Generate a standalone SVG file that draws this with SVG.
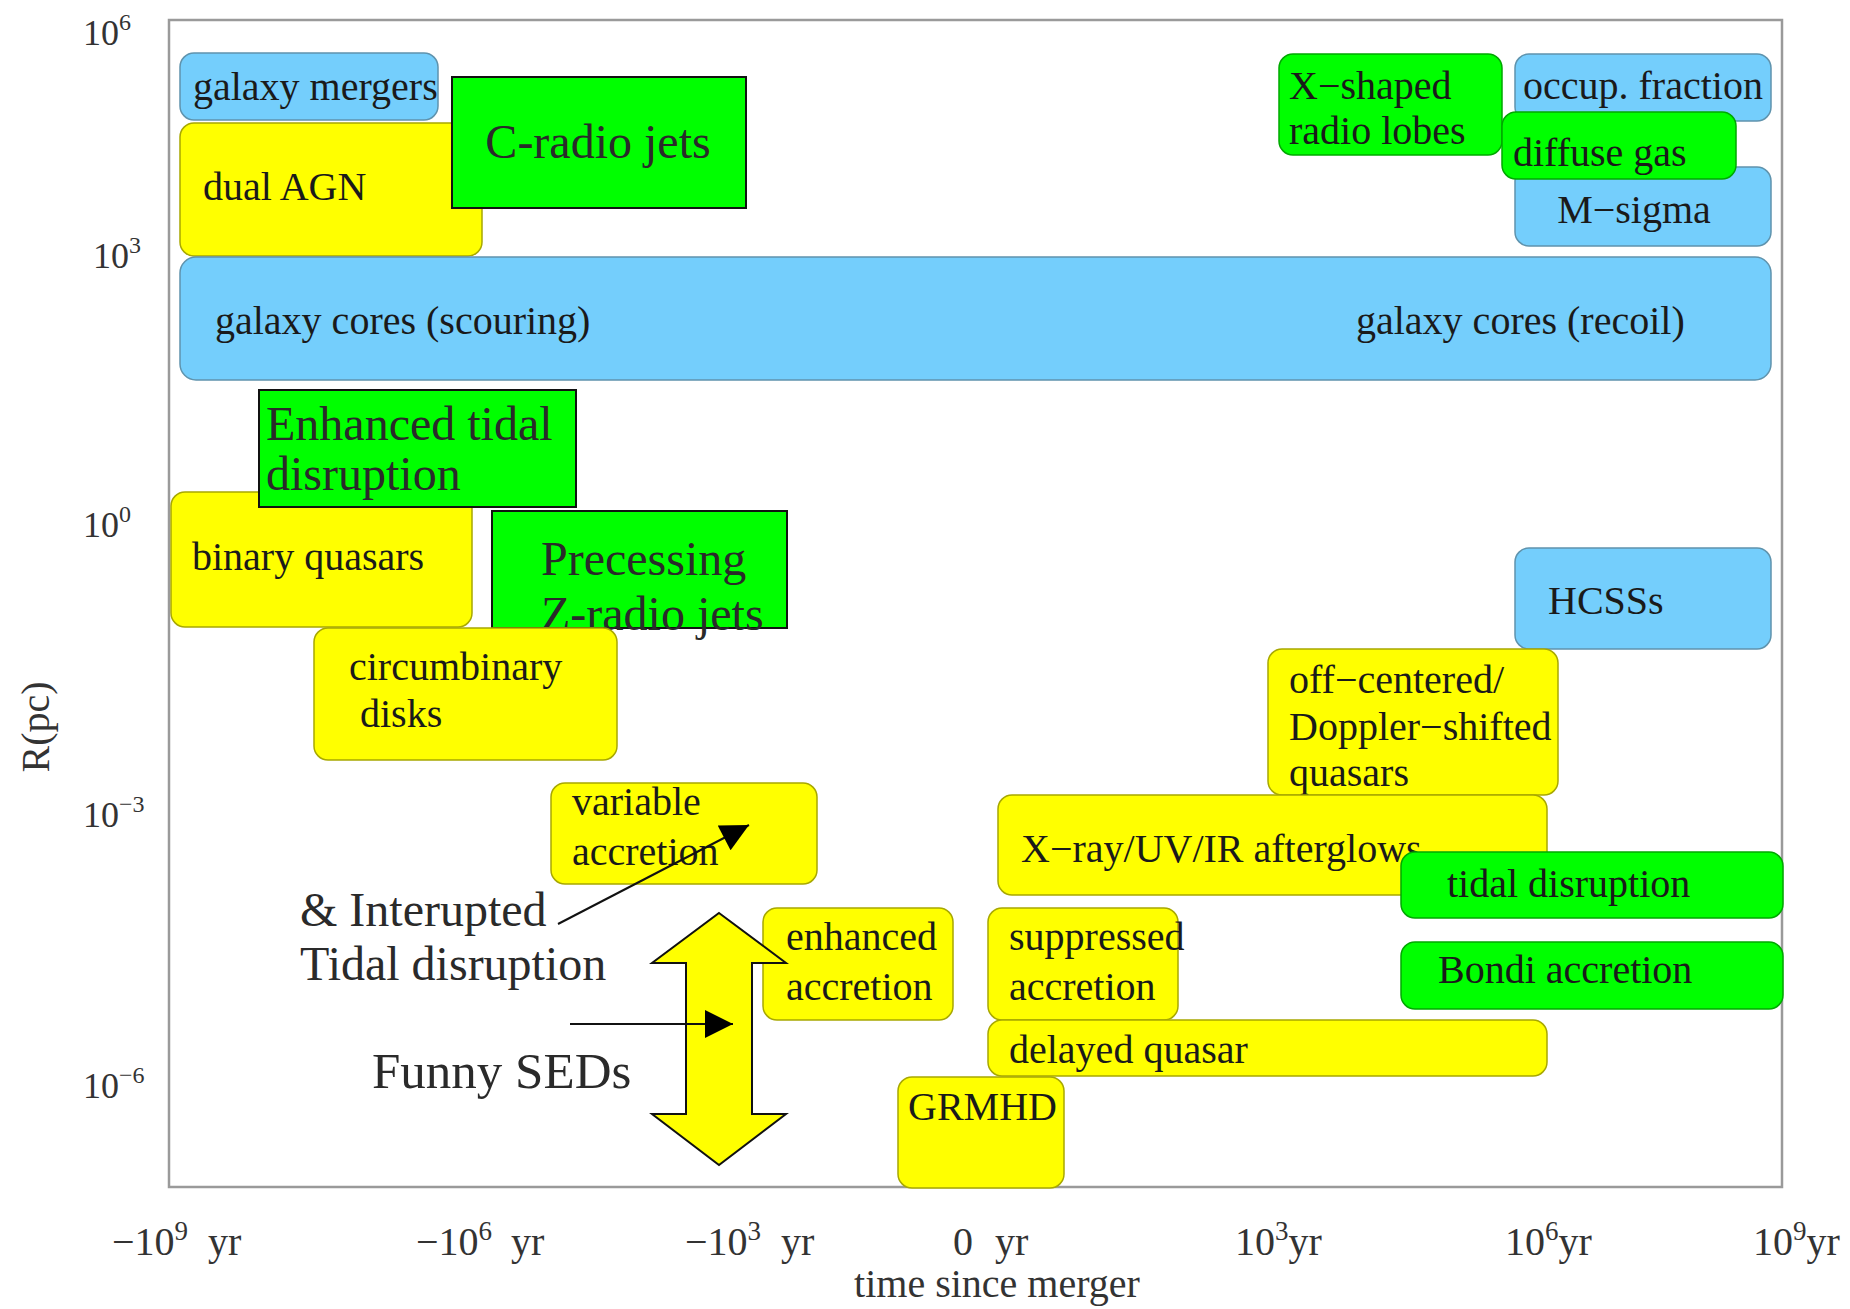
<svg xmlns="http://www.w3.org/2000/svg" width="1850" height="1309" viewBox="0 0 1850 1309">
<style>
text{font-family:"Liberation Serif","Times New Roman",serif;fill:#1a1a1a}
.t{font-size:40px}
.big{font-size:48px;fill:#2a2a2a}
.ax{font-size:36px;fill:#333}
.xl{font-size:40px;fill:#333}
.sup{font-size:24px}
.xs{font-size:27px}
.blue{fill:#74cefc;stroke:#5f93ad;stroke-width:1.5}
.yel{fill:#ffff00;stroke:#a8a800;stroke-width:1.5}
.grn{fill:#00ff00;stroke:#00a800;stroke-width:1.5}
.sq{fill:#00ff00;stroke:#111;stroke-width:2}
.conn{stroke:#111;stroke-width:2;fill:none}
</style>
<defs>
<marker id="ah" viewBox="0 0 10 10" refX="10" refY="5" markerUnits="userSpaceOnUse" markerWidth="46" markerHeight="28" orient="auto">
<path d="M0,0 L10,5 L0,10 z" fill="#000"/>
</marker>
</defs>
<rect width="1850" height="1309" fill="#fff"/>
<rect x="169" y="20" width="1613" height="1167" fill="#fff" stroke="#9a9a9a" stroke-width="2.5"/>

<g id="axes">
<text class="ax" x="83" y="45">10<tspan class="sup" dy="-15">6</tspan></text>
<text class="ax" x="93" y="268">10<tspan class="sup" dy="-15">3</tspan></text>
<text class="ax" x="83" y="537">10<tspan class="sup" dy="-15">0</tspan></text>
<text class="ax" x="83" y="827">10<tspan class="sup" dy="-15">−3</tspan></text>
<text class="ax" x="83" y="1098">10<tspan class="sup" dy="-15">−6</tspan></text>
<text class="xl" transform="translate(49,727) rotate(-90)" text-anchor="middle">R(pc)</text>
<text class="xl" x="112" y="1255">−10<tspan class="xs" dy="-15">9</tspan><tspan x="208" dy="15">yr</tspan></text>
<text class="xl" x="416" y="1255">−10<tspan class="xs" dy="-15">6</tspan><tspan x="511" dy="15">yr</tspan></text>
<text class="xl" x="685" y="1255">−10<tspan class="xs" dy="-15">3</tspan><tspan x="781" dy="15">yr</tspan></text>
<text class="xl" x="953" y="1255">0<tspan x="995">yr</tspan></text>
<text class="xl" x="1235" y="1255">10<tspan class="xs" dy="-15">3</tspan><tspan dy="15">yr</tspan></text>
<text class="xl" x="1505" y="1255">10<tspan class="xs" dy="-15">6</tspan><tspan dy="15">yr</tspan></text>
<text class="xl" x="1753" y="1255">10<tspan class="xs" dy="-15">9</tspan><tspan dy="15">yr</tspan></text>
<text class="xl" x="997" y="1297" text-anchor="middle">time since merger</text>
</g>

<g id="galaxy-mergers"><rect class="blue" x="180" y="53" width="258" height="67" rx="14"/><text class="t" x="193" y="100">galaxy mergers</text></g>
<g id="dual-agn"><rect class="yel" x="180" y="123" width="302" height="133" rx="14"/><text class="t" x="203" y="200">dual AGN</text></g>
<g id="c-radio-jets"><rect class="sq" x="452" y="77" width="294" height="131"/><text class="big" x="598" y="158" text-anchor="middle">C-radio jets</text></g>
<g id="galaxy-cores"><rect class="blue" x="180" y="257" width="1591" height="123" rx="16"/><text class="t" x="215" y="334">galaxy cores (scouring)</text><text class="t" x="1356" y="334">galaxy cores (recoil)</text></g>
<g id="x-shaped"><rect class="grn" x="1279" y="54" width="223" height="101" rx="14"/><text class="t" x="1289" y="99">X−shaped</text><text class="t" x="1289" y="144">radio lobes</text></g>
<g id="occup-fraction"><rect class="blue" x="1515" y="54" width="256" height="67" rx="14"/><text class="t" x="1523" y="99">occup. fraction</text></g>
<g id="m-sigma"><rect class="blue" x="1515" y="167" width="256" height="79" rx="14"/><text class="t" x="1634" y="223" text-anchor="middle">M−sigma</text></g>
<g id="diffuse-gas"><rect class="grn" x="1502" y="112" width="234" height="67" rx="14"/><text class="t" x="1513" y="166">diffuse gas</text></g>

<g id="binary-quasars"><rect class="yel" x="171" y="492" width="301" height="135" rx="14"/><text class="t" x="192" y="570">binary quasars</text></g>
<g id="enhanced-tidal"><rect class="sq" x="259" y="390" width="317" height="117"/><text class="big" x="266" y="440">Enhanced tidal</text><text class="big" x="266" y="490">disruption</text></g>
<g id="precessing"><rect class="sq" x="492" y="511" width="295" height="117"/><text class="big" x="541" y="575">Precessing</text><text class="big" x="541" y="630">Z-radio jets</text></g>
<g id="circumbinary"><rect class="yel" x="314" y="628" width="303" height="132" rx="14"/><text class="t" x="349" y="680">circumbinary</text><text class="t" x="360" y="727">disks</text></g>
<g id="hcss"><rect class="blue" x="1515" y="548" width="256" height="101" rx="14"/><text class="t" x="1548" y="614">HCSSs</text></g>
<g id="off-centered"><rect class="yel" x="1268" y="649" width="290" height="146" rx="14"/><text class="t" x="1289" y="693">off−centered/</text><text class="t" x="1289" y="740">Doppler−shifted</text><text class="t" x="1289" y="786">quasars</text></g>
<g id="variable-accretion"><rect class="yel" x="551" y="783" width="266" height="101" rx="14"/><text class="t" x="572" y="815">variable</text><text class="t" x="572" y="865">accretion</text></g>
<g id="afterglows"><rect class="yel" x="998" y="795" width="549" height="100" rx="14"/><text class="t" x="1021" y="862">X−ray/UV/IR afterglows</text></g>
<g id="tidal-disruption"><rect class="grn" x="1401" y="852" width="382" height="66" rx="14"/><text class="t" x="1447" y="897">tidal disruption</text></g>
<g id="enhanced-accretion"><rect class="yel" x="763" y="908" width="190" height="112" rx="14"/><text class="t" x="786" y="950">enhanced</text><text class="t" x="786" y="1000">accretion</text></g>
<g id="suppressed-accretion"><rect class="yel" x="988" y="908" width="190" height="112" rx="14"/><text class="t" x="1009" y="950">suppressed</text><text class="t" x="1009" y="1000">accretion</text></g>
<g id="bondi"><rect class="grn" x="1401" y="942" width="382" height="67" rx="14"/><text class="t" x="1438" y="983">Bondi accretion</text></g>
<g id="delayed-quasar"><rect class="yel" x="988" y="1020" width="559" height="56" rx="14"/><text class="t" x="1009" y="1063">delayed quasar</text></g>
<g id="grmhd"><rect class="yel" x="898" y="1077" width="166" height="111" rx="14"/><text class="t" x="908" y="1120">GRMHD</text></g>

<g id="annotations">
<text class="big" x="300" y="926">&amp; Interupted</text>
<text class="big" x="300" y="980">Tidal disruption</text>
<text class="big" x="372" y="1088" style="font-size:51px">Funny SEDs</text>
</g>
<g id="big-arrow"><polygon points="719,913 786,963 752,963 752,1114 786,1114 719,1165 652,1114 686,1114 686,963 652,963" fill="#ffff00" stroke="#111" stroke-width="2"/></g>
<g id="connectors">
<line class="conn" x1="558" y1="924" x2="749" y2="825" marker-end="url(#ah)"/>
<line class="conn" x1="570" y1="1024" x2="733" y2="1024" marker-end="url(#ah)"/>
</g>
</svg>
